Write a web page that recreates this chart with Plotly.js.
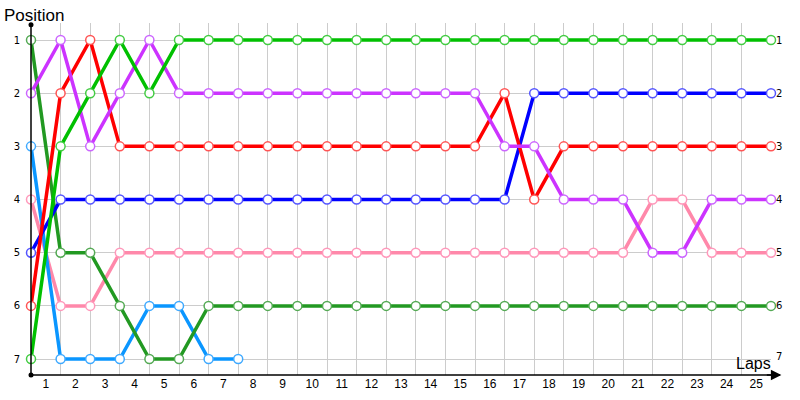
<!DOCTYPE html>
<html>
<head>
<meta charset="utf-8">
<script src="https://cdn.plot.ly/plotly-3.0.1.min.js"></script>
<style>html,body{margin:0;padding:0;background:#fff;}#chart{width:800px;height:400px;}</style>
</head>
<body>
<div id="chart"></div>
<script>
// Lap index (0 = start grid)
const laps = [0,1,2,3,4,5,6,7,8,9,10,11,12,13,14,15,16,17,18,19,20,21,22,23,24,25];
const lapLabels = ['1','2','3','4','5','6','7','8','9','10','11','12','13','14','15','16','17','18','19','20','21','22','23','24','25'];
const positionLabels = ['1','2','3','4','5','6','7'];

const brightGreen = [7,3,2,1,2,1,1,1,1,1,1,1,1,1,1,1,1,1,1,1,1,1,1,1,1,1];
const darkGreen   = [1,5,5,6,7,7,6,6,6,6,6,6,6,6,6,6,6,6,6,6,6,6,6,6,6,6];
const purple      = [2,1,3,2,1,2,2,2,2,2,2,2,2,2,2,2,3,3,4,4,4,5,5,4,4,4];
const red         = [6,2,1,3,3,3,3,3,3,3,3,3,3,3,3,3,2,4,3,3,3,3,3,3,3,3];
const blue        = [5,4,4,4,4,4,4,4,4,4,4,4,4,4,4,4,4,2,2,2,2,2,2,2,2,2];
const lightBlue   = [3,7,7,7,6,6,7,7];
const pink        = [4,6,6,5,5,5,5,5,5,5,5,5,5,5,5,5,5,5,5,5,5,4,4,5,5,5];

const series = [
  {y: pink, line: '#ff88aa', mk: '#ff99bb'},
  {y: lightBlue, line: '#0a96ff', mk: '#40aaff'},
  {y: darkGreen, line: '#229922', mk: '#55aa55'},
  {y: blue, line: '#0000ff', mk: '#5555ff'},
  {y: red, line: '#ff0000', mk: '#ff5555'},
  {y: purple, line: '#cc33ff', mk: '#cc66ff'},
  {y: brightGreen, line: '#00c000', mk: '#44cc44'}
];

const traces = series.map(s => ({
  x: laps.slice(0, s.y.length),
  y: s.y,
  type: 'scatter',
  mode: 'lines+markers',
  cliponaxis: false,
  line: {color: s.line, width: 3.5},
  marker: {symbol: 'circle', size: 9, color: '#ffffff', line: {color: s.mk, width: 1.5}},
  hoverinfo: 'skip',
  showlegend: false
}));

const midTicks = lapLabels.map((t, i) => i + 0.5);
const posVals = positionLabels.map(Number);
const FONT = 'Liberation Sans, Arial, sans-serif';
const SMALL = 'DejaVu Sans, Verdana, sans-serif';

const rightAnn = positionLabels.map((t, i) => ({
  xref: 'paper', yref: 'y', x: 1, y: posVals[i], text: t, showarrow: false,
  xanchor: 'left', xshift: 3, yshift: (i === positionLabels.length - 1) ? 3 : 0,
  font: {family: SMALL, size: 10, color: '#000'}
}));

const layout = {
  width: 800, height: 400,
  margin: {l: 31, r: 29, t: 23, b: 25, pad: 0},
  paper_bgcolor: '#ffffff', plot_bgcolor: '#ffffff',
  title: {text: 'Position', xref: 'container', x: 4/800, xanchor: 'left', yref: 'container', y: 0.978, yanchor: 'top',
          pad: {t: 0, b: 0, l: 0, r: 0},
          font: {family: FONT, size: 17, color: '#000'}},
  xaxis: {
    range: [0, 25], fixedrange: true,
    tickmode: 'array', tickvals: midTicks, ticktext: lapLabels,
    showgrid: false, zeroline: false, showline: false,
    ticks: '', tickfont: {family: FONT, size: 12, color: '#000'},
    minor: {tickmode: 'linear', tick0: 0, dtick: 1, showgrid: true, gridcolor: '#cccccc', gridwidth: 1, ticks: ''}
  },
  yaxis: {
    range: [7.3, 0.68], fixedrange: true,
    tickmode: 'array', tickvals: posVals, ticktext: positionLabels,
    showgrid: true, gridcolor: '#cccccc', gridwidth: 1, zeroline: false,
    showline: false, ticks: '', ticklabelstandoff: 10,
    tickfont: {family: SMALL, size: 10, color: '#000'}
  },
  shapes: [
    {type: 'line', xref: 'paper', yref: 'paper', x0: 0, x1: 0, y0: 0, y1: 0.995, line: {color: '#000', width: 1.5}, layer: 'above'},
    {type: 'line', xref: 'paper', yref: 'paper', x0: 0, x1: 1.012, y0: 0, y1: 0, line: {color: '#000', width: 1.5}, layer: 'above'},
    {type: 'circle', xref: 'paper', yref: 'paper', xsizemode: 'pixel', ysizemode: 'pixel', xanchor: 0, yanchor: 0.995,
     x0: -2.5, x1: 2.5, y0: -2.5, y1: 2.5, fillcolor: '#000', line: {width: 0}, layer: 'above'},
    {type: 'circle', xref: 'paper', yref: 'paper', xsizemode: 'pixel', ysizemode: 'pixel', xanchor: 0, yanchor: 0,
     x0: -2.5, x1: 2.5, y0: -2.5, y1: 2.5, fillcolor: '#000', line: {width: 0}, layer: 'above'}
  ],
  annotations: rightAnn.concat([
    {xref: 'paper', yref: 'paper', x: 1.014, y: 0, ax: -16, ay: 0, text: '', showarrow: true,
     arrowhead: 2, arrowsize: 1.4, arrowwidth: 1.5, arrowcolor: '#000'},
    {xref: 'paper', yref: 'paper', x: 1.003, y: 0, xanchor: 'right', yanchor: 'bottom', yshift: 1, text: 'Laps', showarrow: false,
     font: {family: FONT, size: 16, color: '#000'}}
  ])
};

Plotly.newPlot('chart', traces, layout, {staticPlot: true, displayModeBar: false});
</script>
</body>
</html>
